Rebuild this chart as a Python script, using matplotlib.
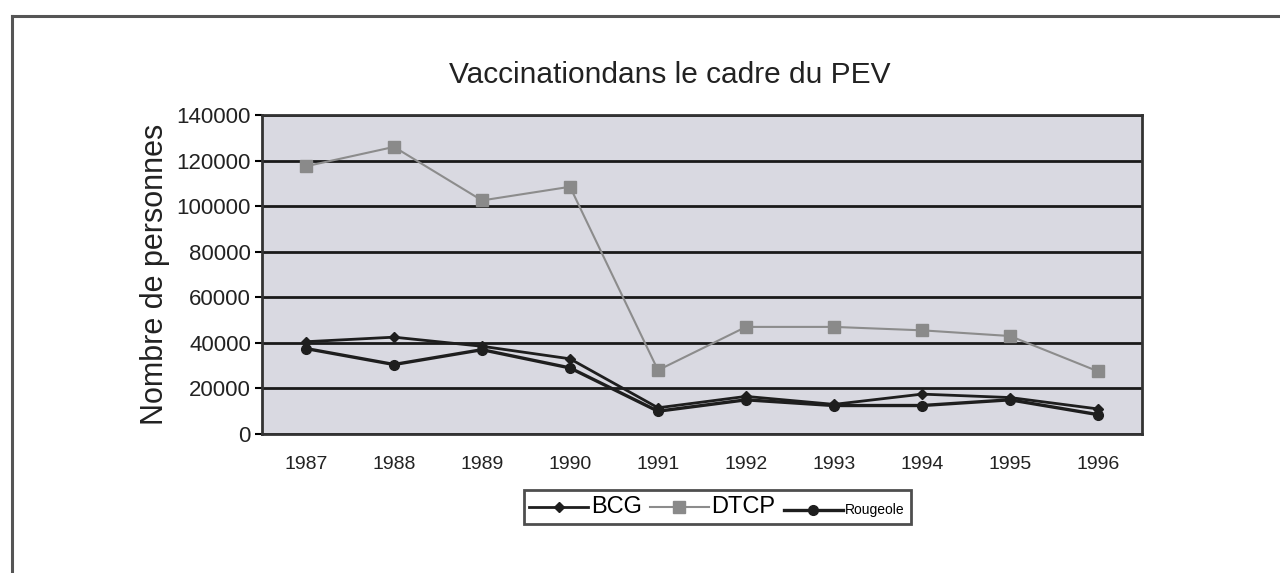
import matplotlib
matplotlib.use("Agg")
import matplotlib.pyplot as plt
from matplotlib.lines import Line2D

plt.rcParams['font.family'] = ['Liberation Sans', 'DejaVu Sans']

# ── Data ────────────────────────────────────────────────────────
years = ['1987', '1988', '1989', '1990', '1991',
         '1992', '1993', '1994', '1995', '1996']
bcg      = [40500, 42500, 38500, 33000, 11500, 16500, 13000, 17500, 16000, 11000]
dtcp     = [117500, 126000, 102500, 108500, 28000, 47000, 47000, 45500, 43000, 27500]
rougeole = [37500, 30500, 37000, 29000, 10000, 15000, 12500, 12500, 15000, 8500]
yticks   = [0, 20000, 40000, 60000, 80000, 100000, 120000, 140000]

fig = plt.figure(figsize=(12.8, 5.73), dpi=100)

# outer page frame (top + left edges of the scanned box)
fig.add_artist(Line2D([12/1280, 1.0], [1 - 16/573, 1 - 16/573],
                      color='#555555', lw=2.2, transform=fig.transFigure))
fig.add_artist(Line2D([12/1280, 12/1280], [0.0, 1 - 16/573],
                      color='#555555', lw=2.2, transform=fig.transFigure))

ax = fig.add_axes([262/1280, 1 - 434/573, 880/1280, 319/573])
ax.set_facecolor('#d9d9e1')

x = range(len(years))
ax.plot(x, bcg, color='#1e1e1e', lw=2.0, marker='D', ms=5, label='BCG', zorder=4)
ax.plot(x, dtcp, color='#8c8c8c', lw=1.5, marker='s', ms=9,
        mfc='#8a8a8a', mec='#8a8a8a', label='DTCP', zorder=3)
ax.plot(x, rougeole, color='#1e1e1e', lw=2.4, marker='o', ms=7,
        label='Rougeole', zorder=4)

ax.set_xlim(-0.5, len(years) - 0.5)
ax.set_ylim(0, 140000)
ax.set_yticks(yticks)
ax.set_yticklabels([str(v) for v in yticks], fontsize=16, color='#222222')
ax.set_xticks(list(x))
ax.set_xticklabels(years, fontsize=14, color='#222222')
ax.tick_params(axis='x', length=0, pad=16)
ax.tick_params(axis='y', length=5, width=1.5, pad=3)

ax.yaxis.grid(True, color='#1a1a1a', lw=2.0)
ax.set_axisbelow(True)
for s in ax.spines.values():
    s.set_color('#333333')
    s.set_linewidth(2.0)

ax.set_ylabel('Nombre de personnes', fontsize=22, color='#222222', labelpad=5)
fig.text(670/1280, 1 - 75/573, 'Vaccinationdans le cadre du PEV',
         ha='center', va='center', fontsize=21.5, color='#222222')

leg = fig.legend(loc='center', bbox_to_anchor=(717/1280, 1 - 507/573),
                 ncol=3, frameon=True, fancybox=False, fontsize=17,
                 handlelength=2.5, handletextpad=0.1, columnspacing=0.35,
                 borderpad=0.25, edgecolor='#222222')
leg.get_frame().set_linewidth(2.0)
leg.get_texts()[2].set_fontsize(10)
# centre the small "Rougeole" label vertically on its handle
for col in leg._legend_handle_box.get_children():
    for item in col.get_children():
        item.align = 'center'

fig.savefig('out.png', dpi=100)
